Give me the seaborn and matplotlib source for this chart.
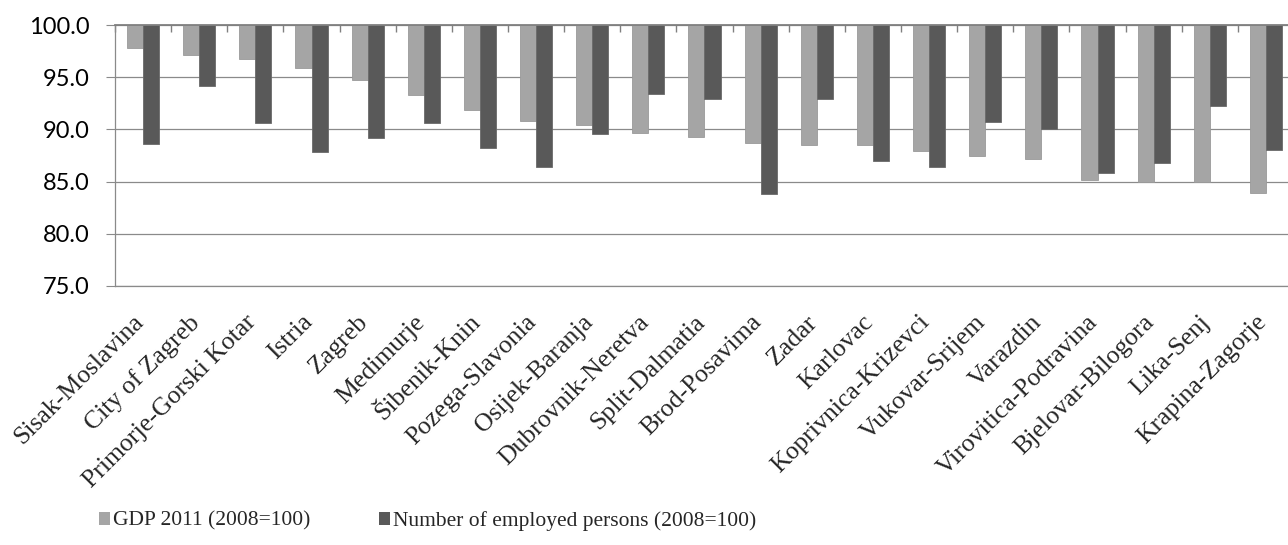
import pandas as pd
import numpy as np
import matplotlib
matplotlib.use('Agg')
import matplotlib.pyplot as plt
import matplotlib.transforms as mtransforms
from matplotlib.patches import Patch
from matplotlib.ticker import FixedLocator, FuncFormatter
import seaborn as sns

# Data (index, 2008=100)
counties = ["Sisak-Moslavina", "City of Zagreb", "Primorje-Gorski Kotar", "Istria", "Zagreb",
            "Medimurje", "Šibenik-Knin", "Pozega-Slavonia", "Osijek-Baranja", "Dubrovnik-Neretva",
            "Split-Dalmatia", "Brod-Posavima", "Zadar", "Karlovac", "Koprivnica-Krizevci",
            "Vukovar-Srijem", "Varazdin", "Virovitica-Podravina", "Bjelovar-Bilogora",
            "Lika-Senj", "Krapina-Zagorje"]
gdp = [97.8, 97.1, 96.7, 95.9, 94.7, 93.3, 91.9, 90.8, 90.4, 89.7, 89.3,
       88.7, 88.5, 88.5, 87.9, 87.5, 87.2, 85.2, 85.0, 85.0, 83.9]
employed = [88.6, 94.2, 90.6, 87.8, 89.2, 90.6, 88.2, 86.4, 89.6, 93.4, 92.9,
            83.8, 92.9, 87.0, 86.4, 90.7, 90.0, 85.8, 86.8, 92.2, 88.0]
series = ["GDP 2011 (2008=100)", "Number of employed persons (2008=100)"]
colors = ["#a5a5a5", "#595959"]

df = pd.DataFrame({"county": counties * 2,
                   "series": [series[0]] * len(counties) + [series[1]] * len(counties),
                   "value": gdp + employed})
# bars hang from the 100 line, so plot the difference to 100
df["delta"] = df["value"] - 100

sns.set_style("white")
plt.rcParams['font.family'] = ['Lato', 'DejaVu Sans']

fig = plt.figure(figsize=(12.88, 5.45), dpi=100)
ax = fig.add_axes([115 / 1288, 1 - 286 / 545, 1179 / 1288, 261 / 545])

sns.barplot(data=df, x="county", y="delta", hue="series", order=counties,
            hue_order=series, palette=colors, saturation=1, width=0.57, gap=0,
            errorbar=None, legend=False, ax=ax, linewidth=0.6,
            edgecolor="#9a9a9a")
for bar in ax.patches[len(counties):]:
    bar.set_edgecolor("#6a6a6a")

ax.set_xlim(-0.5, len(counties) - 0.5)
ax.set_ylim(-25, 0)
ax.yaxis.set_major_locator(FixedLocator(np.arange(-25, 1, 5)))
ax.yaxis.set_major_formatter(FuncFormatter(lambda v, p: f"{v + 100:.1f}"))
ax.grid(axis="y", color="#8a8a8a", linewidth=0.9)
ax.set_axisbelow(True)
ax.set_xlabel("")
ax.set_ylabel("")

for side in ["left", "bottom"]:
    ax.spines[side].set_color("#8a8a8a")
    ax.spines[side].set_linewidth(0.9)
ax.spines["top"].set_color("#808080")
ax.spines["top"].set_linewidth(1.3)
ax.spines["right"].set_visible(False)

ax.tick_params(axis="y", which="major", left=True, direction="out", length=6.5,
               color="#8a8a8a", pad=12, labelsize=17, labelcolor="black")
# category boundary ticks hang from the top (100) axis
ax.xaxis.set_minor_locator(FixedLocator(np.arange(-0.5, len(counties), 1)))
ax.tick_params(axis="x", which="minor", top=True, bottom=False, direction="in",
               length=5, color="#808080", width=1)
ax.tick_params(axis="x", which="major", bottom=True, top=False, length=0, pad=18)

shift = mtransforms.ScaledTranslation(5 / 100, 0, fig.dpi_scale_trans)
for lab in ax.get_xticklabels():
    lab.set_rotation(45)
    lab.set_ha("right")
    lab.set_va("top")
    lab.set_fontfamily("Liberation Serif")
    lab.set_fontsize(18.5)
    lab.set_transform(lab.get_transform() + shift)

handles = [Patch(facecolor=c, edgecolor="none") for c in colors]
fig.legend(handles, series, loc="center left", bbox_to_anchor=(99 / 1288, 1 - 521 / 545),
           ncol=2, frameon=False, borderpad=0, borderaxespad=0,
           handlelength=0.52, handleheight=0.52, handletextpad=0.12,
           columnspacing=3.2, prop={"family": "Liberation Serif", "size": 15.5})

fig.savefig("out.png", dpi=100)
